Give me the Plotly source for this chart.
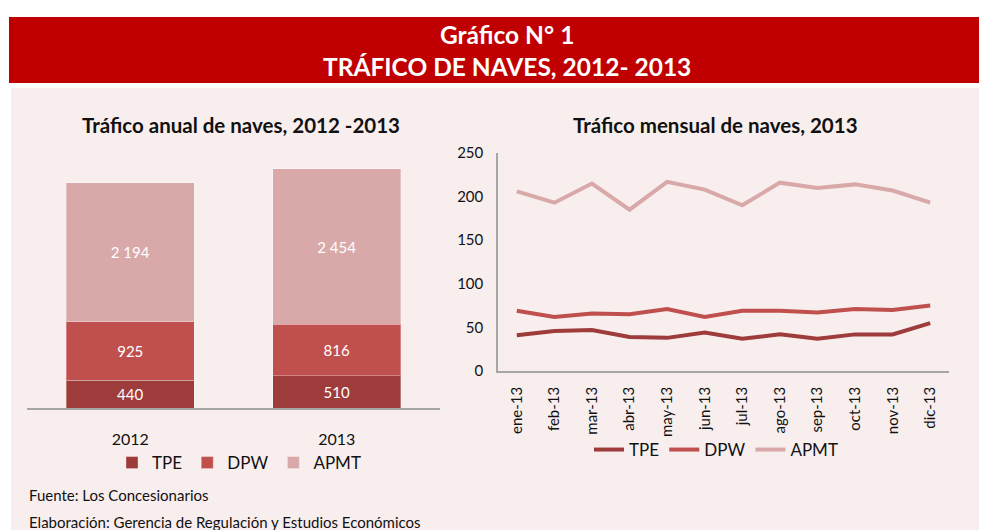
import plotly.graph_objects as go

W, H = 987, 530
OFF = 8  # page body margin shifts the figure by 8px

years = ["2012", "2013"]
tpe_year = [440, 510]
dpw_year = [925, 816]
apmt_year = [2194, 2454]

months = ["ene-13", "feb-13", "mar-13", "abr-13", "may-13", "jun-13",
          "jul-13", "ago-13", "sep-13", "oct-13", "nov-13", "dic-13"]
tpe_m = [41, 46, 47, 39, 38, 44, 37, 42, 37, 42, 42, 55]
dpw_m = [69, 62, 66, 65, 71, 62, 69, 69, 67, 71, 70, 75]
apmt_m = [206, 193, 215, 185, 217, 208, 190, 216, 210, 214, 207, 193]

C_TPE = "#9E3C3B"
C_DPW = "#C0504D"
C_APMT = "#D9A8A9"
FONT = "Lato"


def fmt(v):
    return f"{v:,}".replace(",", " ")


def px_x(p):
    return (p - OFF) / W


def px_y(p):
    return (H - (p - OFF)) / H


fig = go.Figure()

for name, vals, col in [("TPE", tpe_year, C_TPE), ("DPW", dpw_year, C_DPW), ("APMT", apmt_year, C_APMT)]:
    fig.add_trace(go.Bar(
        x=years, y=vals, name=name,
        marker=dict(color=col, line=dict(width=1, color="rgba(255,255,255,0.3)")),
        text=[fmt(v) for v in vals], textposition="inside", insidetextanchor="middle",
        textfont=dict(color="white", size=15, family=FONT), xaxis="x", yaxis="y",
        legend="legend",
    ))

for name, vals, col in [("TPE", tpe_m, C_TPE), ("DPW", dpw_m, C_DPW), ("APMT", apmt_m, C_APMT)]:
    fig.add_trace(go.Scatter(
        x=months, y=vals, name=name, mode="lines",
        line=dict(color=col, width=4), xaxis="x2", yaxis="y2", legend="legend2",
    ))

shapes = [
    dict(type="rect", xref="paper", yref="paper", x0=px_x(11), x1=1.0, y0=0, y1=px_y(88),
         fillcolor="#F8EEEE", line=dict(width=0), layer="below"),
    dict(type="rect", xref="paper", yref="paper", x0=px_x(9), x1=1.0, y0=px_y(83), y1=px_y(17),
         fillcolor="#C00000", line=dict(width=0), layer="below"),
]


def ann(text, x, y, size, color="#111111", xanchor="center"):
    return dict(text=text, x=px_x(x), y=px_y(y), xref="paper", yref="paper",
                xanchor=xanchor, yanchor="middle", showarrow=False,
                font=dict(color=color, size=size, family=FONT))


annotations = [
    ann("<b>Gráfico N° 1</b>", 507, 35, 24.5, "white"),
    ann("<b>TRÁFICO DE NAVES, 2012- 2013</b>", 507, 67, 24.5, "white"),
    ann("<b>Tráfico anual de naves, 2012 -2013</b>", 241, 125, 20.5),
    ann("<b>Tráfico mensual de naves, 2013</b>", 715, 125, 20.5),
    ann("Fuente: Los Concesionarios", 27, 495, 15, xanchor="left"),
    ann("Elaboración: Gerencia de Regulación y Estudios Económicos", 27, 522, 15, xanchor="left"),
]

fig.update_layout(
    width=W, height=H, autosize=False,
    margin=dict(l=0, r=0, t=0, b=0, pad=0),
    paper_bgcolor="white", plot_bgcolor="rgba(0,0,0,0)",
    font=dict(family=FONT, color="#111111", size=15),
    barmode="stack", bargap=0.38,
    shapes=shapes, annotations=annotations,
    xaxis=dict(domain=[px_x(27), px_x(440)], showgrid=False, showline=True, linecolor="#A6A6A6",
               linewidth=2, ticks="", ticklabelstandoff=16, tickfont=dict(size=16),
               automargin=False),
    yaxis=dict(domain=[px_y(408), px_y(155)], range=[0, 4000], visible=False, showgrid=False,
               automargin=False),
    xaxis2=dict(domain=[px_x(498), px_x(949)], anchor="y2", range=[-0.5, 11.5], showgrid=False,
                showline=True, linecolor="#A6A6A6", linewidth=1.5, ticks="", tickangle=-90,
                ticklabelstandoff=8, tickfont=dict(size=15), automargin=False),
    yaxis2=dict(domain=[px_y(371), px_y(153)], anchor="x2", range=[0, 250], dtick=50, showgrid=False,
                showline=True, linecolor="#A6A6A6", linewidth=1.5, ticks="", zeroline=False,
                ticklabelstandoff=10, tickfont=dict(size=15), automargin=False),
    legend=dict(orientation="h", x=px_x(239), y=px_y(463), xanchor="center", yanchor="middle",
                bgcolor="rgba(0,0,0,0)", font=dict(size=17), itemwidth=30, traceorder="normal"),
    legend2=dict(orientation="h", x=px_x(716), y=px_y(450), xanchor="center", yanchor="middle",
                 bgcolor="rgba(0,0,0,0)", font=dict(size=17), traceorder="normal"),
    showlegend=True,
)

fig.write_html("out.html")
